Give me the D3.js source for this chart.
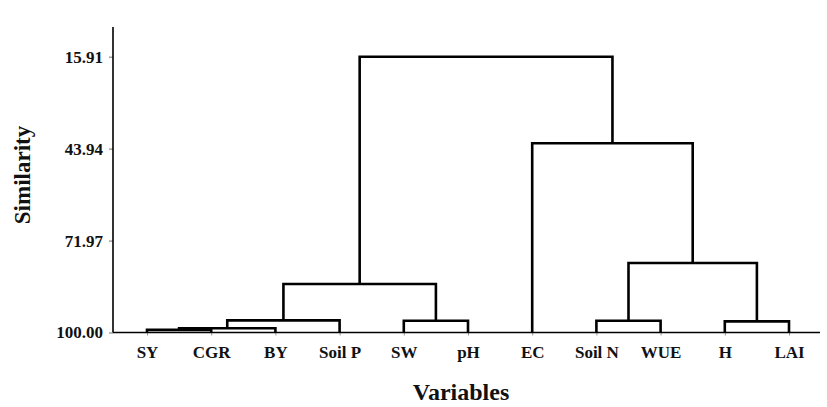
<!DOCTYPE html>
<html>
<head>
<meta charset="utf-8">
<script src="https://cdn.jsdelivr.net/npm/d3@7"></script>
<style>
  html, body { margin: 0; padding: 0; background: #fff; }
  svg { display: block; }
  text { font-family: "Liberation Serif", "Times New Roman", serif; font-weight: bold; fill: #111; }
</style>
</head>
<body>
<svg id="chart" width="827" height="407"></svg>
<script>
// ---- data ----
const leaves = ["SY", "CGR", "BY", "Soil P", "SW", "pH", "EC", "Soil N", "WUE", "H", "LAI"];
// merges: node ids 0..10 are leaves, merge k creates node 11+k
const mergeLeft  = [0, 11, 12, 4, 13, 7, 9, 16, 6, 15];
const mergeRight = [1, 2, 3, 5, 14, 8, 10, 17, 18, 19];
const mergeSimilarity = [99.2, 98.7, 96.3, 96.4, 85.2, 96.4, 96.6, 78.8, 42.3, 15.91];
const yTicks = [15.91, 43.94, 71.97, 100.00];
const xTitle = "Variables";
const yTitle = "Similarity";

// ---- layout ----
const svg = d3.select("#chart");
const axisX = 113, baseY = 332.5, topY = 27, rightX = 820;

const x = d3.scalePoint().domain(d3.range(leaves.length)).range([147, 789]);
const y = d3.scaleLinear().domain([100, 15.91]).range([baseY, 56.7]);

// node positions
const nodeX = leaves.map((d, i) => x(i));
const nodeH = leaves.map(() => 100);
mergeLeft.forEach((l, k) => {
  const r = mergeRight[k];
  nodeX.push((nodeX[l] + nodeX[r]) / 2);
  nodeH.push(mergeSimilarity[k]);
});

// y axis
const yAxis = d3.axisLeft(y).tickValues(yTicks).tickFormat(d => d.toFixed(2)).tickSize(4).tickPadding(6);
const gy = svg.append("g").attr("transform", `translate(${axisX},0)`).call(yAxis);
gy.select(".domain").remove();
gy.selectAll(".tick line").attr("stroke", "#888").attr("stroke-width", 1.2);
gy.selectAll(".tick text").attr("font-size", 17).attr("font-family", "Liberation Serif").attr("font-weight", "bold").attr("fill", "#111");
svg.append("line").attr("x1", axisX).attr("x2", axisX).attr("y1", topY).attr("y2", baseY)
  .attr("stroke", "#000").attr("stroke-width", 1.6);

// x axis
const xAxis = d3.axisBottom(x).tickFormat(i => leaves[i]).tickSize(3).tickPadding(10);
const gx = svg.append("g").attr("transform", `translate(0,${baseY})`).call(xAxis);
gx.select(".domain").remove();
gx.selectAll(".tick line").attr("stroke", "#999").attr("stroke-width", 1);
gx.selectAll(".tick text").attr("font-size", 17).attr("font-family", "Liberation Serif").attr("font-weight", "bold").attr("fill", "#111");
svg.append("line").attr("x1", axisX).attr("x2", rightX).attr("y1", baseY).attr("y2", baseY)
  .attr("stroke", "#000").attr("stroke-width", 1.6);

// dendrogram links
const links = mergeLeft.map((l, k) => {
  const r = mergeRight[k];
  const h = mergeSimilarity[k];
  return `M${nodeX[l]},${y(nodeH[l])}V${y(h)}H${nodeX[r]}V${y(nodeH[r])}`;
});
svg.append("g").selectAll("path").data(links).join("path")
  .attr("d", d => d).attr("fill", "none").attr("stroke", "#000")
  .attr("stroke-width", 2.6).attr("stroke-linejoin", "miter");

// titles
svg.append("text").attr("x", 461).attr("y", 400).attr("text-anchor", "middle")
  .attr("font-size", 24).text(xTitle);
svg.append("text").attr("transform", "translate(30,175) rotate(-90)").attr("text-anchor", "middle")
  .attr("font-size", 23).text(yTitle);
</script>
</body>
</html>
